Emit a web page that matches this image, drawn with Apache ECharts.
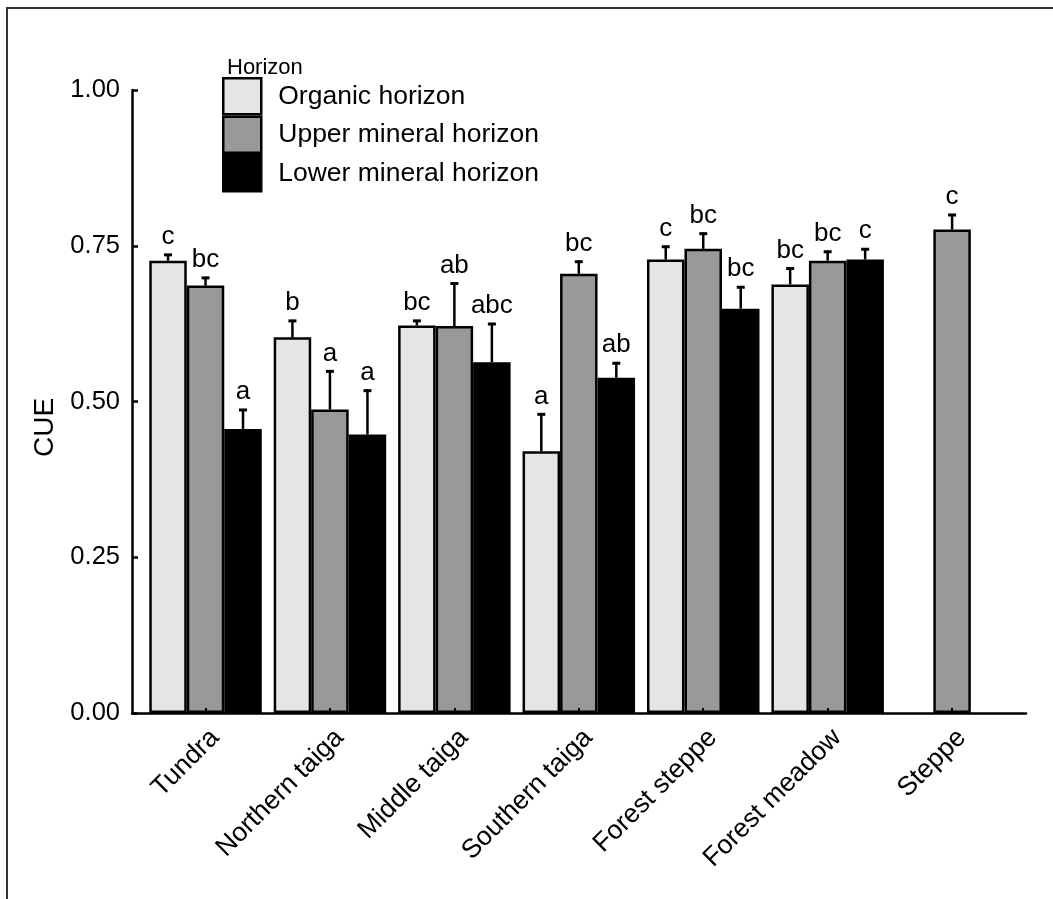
<!DOCTYPE html>
<html>
<head>
<meta charset="utf-8">
<script src="https://cdn.jsdelivr.net/npm/echarts@6/dist/echarts.min.js"></script>
<style>
  html, body { margin: 0; padding: 0; background: #fff; }
  #chart { width: 1053px; height: 899px; }
</style>
</head>
<body>
<div id="chart"></div>
<script>
// Soil zones along the transect
const zones = ['Tundra', 'Northern taiga', 'Middle taiga', 'Southern taiga', 'Forest steppe', 'Forest meadow', 'Steppe'];

// Horizon names (legend order)
const horizons = ['Organic horizon', 'Upper mineral horizon', 'Lower mineral horizon'];

// Mean CUE per zone for each horizon (null = not sampled)
const organicCUE = [0.726, 0.603, 0.622, 0.420, 0.728, 0.688, null];
const upperCUE   = [0.686, 0.487, 0.621, 0.705, 0.745, 0.726, 0.776];
const lowerCUE   = [0.456, 0.447, 0.563, 0.538, 0.649, 0.728, null];

// Standard errors (upper whisker)
const organicSE = [0.011, 0.028, 0.009, 0.061, 0.022, 0.027, null];
const upperSE   = [0.014, 0.063, 0.070, 0.021, 0.026, 0.016, 0.025];
const lowerSE   = [0.032, 0.072, 0.063, 0.025, 0.036, 0.018, null];

// Significance letters
const organicLetters = ['c', 'b', 'bc', 'a', 'c', 'bc', ''];
const upperLetters   = ['bc', 'a', 'ab', 'bc', 'bc', 'bc', 'c'];
const lowerLetters   = ['a', 'a', 'abc', 'ab', 'bc', 'c', ''];

// Y axis tick values
const yTicks = [0, 0.25, 0.5, 0.75, 1.0];

const FONT = 'Liberation Sans, Arial, sans-serif';
const BAR_W = 37.5;
const fills = ['#e5e5e5', '#999999', '#000000'];

const means = [organicCUE, upperCUE, lowerCUE];
const ses = [organicSE, upperSE, lowerSE];
const letters = [organicLetters, upperLetters, lowerLetters];

const chart = echarts.init(document.getElementById('chart'), null, { renderer: 'canvas' });

function barSeries(h) {
  return {
    name: horizons[h],
    type: 'bar',
    xAxisIndex: 0,
    yAxisIndex: 0,
    barWidth: BAR_W,
    barGap: '0%',
    itemStyle: { color: fills[h], borderColor: '#000', borderWidth: 2.5 },
    emphasis: { disabled: true },
    data: means[h].map(v => (v == null ? '-' : v)),
    z: 2
  };
}

// Whiskers + letters for one horizon, offset within the group
function errSeries(h) {
  const data = [];
  means[h].forEach((v, i) => { if (v != null) data.push([i, v, ses[h][i]]); });
  return {
    type: 'custom',
    xAxisIndex: 0,
    yAxisIndex: 0,
    silent: true,
    z: 3,
    data: data,
    renderItem: function (params, api) {
      const cat = api.value(0), v = api.value(1), e = api.value(2);
      const p0 = api.coord([cat, v]);
      const p1 = api.coord([cat, v + e]);
      const x = p0[0] + (h - 1) * BAR_W;
      const letter = letters[h][cat];
      return {
        type: 'group',
        children: [
          { type: 'line', shape: { x1: x, y1: p0[1], x2: x, y2: p1[1] },
            style: { stroke: '#000', lineWidth: 2.5 } },
          { type: 'line', shape: { x1: x - 4, y1: p1[1] + 1, x2: x + 4, y2: p1[1] + 1 },
            style: { stroke: '#000', lineWidth: 3 } },
          { type: 'text', x: x, y: p1[1] - 4,
            style: { text: letter, fill: '#000', font: '26px ' + FONT,
                     textAlign: 'center', textVerticalAlign: 'bottom' } }
        ]
      };
    }
  };
}

const option = {
  animation: false,
  backgroundColor: '#fff',
  textStyle: { fontFamily: FONT, color: '#000' },
  title: {
    text: 'Horizon', left: 222, top: 52,
    textStyle: { fontFamily: FONT, fontSize: 22, fontWeight: 'normal', color: '#000' }
  },
  legend: {
    data: horizons,
    orient: 'vertical',
    left: 217, top: 72,
    itemWidth: 38, itemHeight: 36, itemGap: 0,
    icon: 'rect',
    itemStyle: { borderColor: '#000', borderWidth: 2.5 },
    textStyle: { fontFamily: FONT, fontSize: 26.5, color: '#000', padding: [0, 0, 0, 12] },
    selectedMode: false
  },
  graphic: [{
    type: 'rect', silent: true,
    shape: { x: 7, y: 8, width: 1200, height: 1000 },
    style: { fill: 'none', stroke: '#333', lineWidth: 2 }
  }],
  grid: [
    { left: 143.3, right: 38.7, top: 90, bottom: 186 },
    { left: 132, right: 27, top: 90, bottom: 186 }
  ],
  xAxis: [{
    type: 'category', gridIndex: 0, data: zones, z: 4,
    axisLine: { show: false },
    axisTick: { show: true, inside: true, alignWithLabel: true, length: 5,
                lineStyle: { color: '#000', width: 2 } },
    axisLabel: { rotate: 45, fontFamily: FONT, fontSize: 26.5, color: '#000', margin: 11,
                 verticalAlign: 'top', interval: 0 },
    splitLine: { show: false }
  }, {
    type: 'value', gridIndex: 1, min: 0, max: 1,
    axisLine: { show: true, lineStyle: { color: '#000', width: 2.5 } },
    axisTick: { show: false }, axisLabel: { show: false }, splitLine: { show: false }
  }],
  yAxis: [{
    type: 'value', gridIndex: 0, min: yTicks[0], max: yTicks[yTicks.length - 1], interval: 0.25,
    show: false
  }, {
    type: 'value', gridIndex: 1, min: yTicks[0], max: yTicks[yTicks.length - 1], interval: 0.25,
    name: 'CUE', nameLocation: 'middle', nameGap: 72, nameRotate: 90,
    nameTextStyle: { fontFamily: FONT, fontSize: 28, color: '#000', padding: [0, 52, 0, 0] },
    axisLine: { show: true, lineStyle: { color: '#000', width: 2.5 } },
    axisTick: { show: true, inside: true, length: 6, lineStyle: { color: '#000', width: 2.5 } },
    axisLabel: { fontFamily: FONT, fontSize: 25.5, color: '#000', margin: 12,
                 formatter: v => v.toFixed(2) },
    splitLine: { show: false }
  }],
  series: [barSeries(0), barSeries(1), barSeries(2), errSeries(0), errSeries(1), errSeries(2)]
};

chart.setOption(option);
</script>
</body>
</html>
